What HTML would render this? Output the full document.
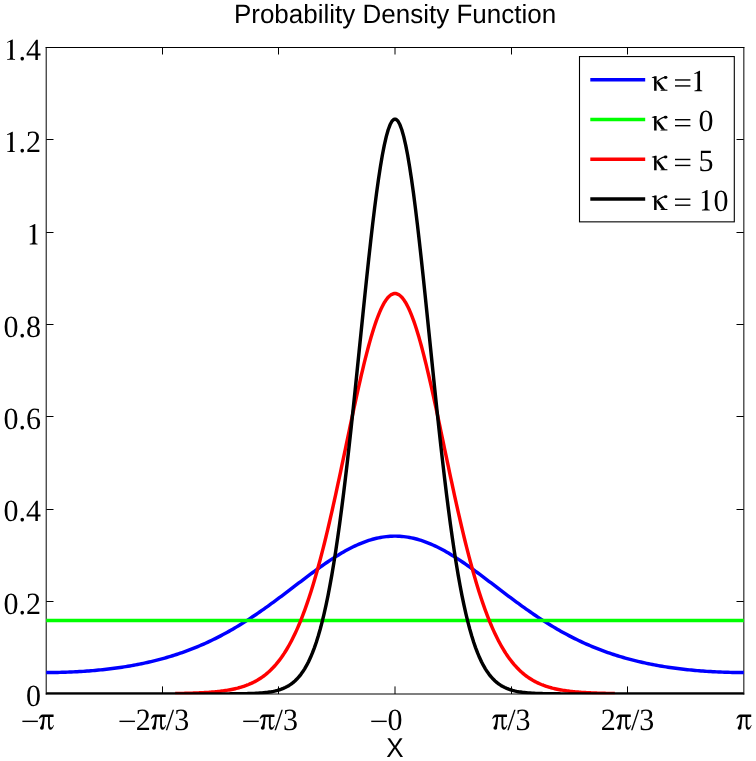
<!DOCTYPE html>
<html><head><meta charset="utf-8"><style>
html,body{margin:0;padding:0;background:#fff;}
svg{display:block;will-change:transform;text-rendering:geometricPrecision;}
.serif{font-family:"Liberation Serif",serif;font-size:30px;fill:#000;}
.sans{font-family:"Liberation Sans",sans-serif;fill:#000;}
</style></head><body>
<svg width="756" height="761" viewBox="0 0 756 761">
<rect width="756" height="761" fill="#fff"/>
<defs><clipPath id="c"><rect x="45.7" y="47" width="698.6" height="647.2"/></clipPath></defs>
<path d="M45.7,47.5H744.35M46.2,47V694.5M743.85,47V694.5" stroke="#000" stroke-width="1" fill="none"/>
<path d="M45.7,693.95H744.35" stroke="#000" stroke-width="1.1" fill="none"/>
<path d="M46.3,601.50h7.2 M743.7,601.50h-7.2 M46.3,509.50h7.2 M743.7,509.50h-7.2 M46.3,416.50h7.2 M743.7,416.50h-7.2 M46.3,324.50h7.2 M743.7,324.50h-7.2 M46.3,232.50h7.2 M743.7,232.50h-7.2 M46.3,139.50h7.2 M743.7,139.50h-7.2 M162.50,694v-7.6 M162.50,47.5v7.0 M278.50,694v-7.6 M278.50,47.5v7.0 M395.00,694v-7.6 M395.00,47.5v7.0 M511.50,694v-7.6 M511.50,47.5v7.0 M627.50,694v-7.6 M627.50,47.5v7.0" stroke="#000" stroke-width="1" fill="none"/>
<g clip-path="url(#c)" fill="none" stroke-width="3.45" stroke-linejoin="round">
<path d="M46.20,672.55L48.14,672.54L50.09,672.53L52.03,672.52L53.97,672.50L55.92,672.47L57.86,672.43L59.80,672.39L61.75,672.34L63.69,672.28L65.63,672.22L67.57,672.15L69.52,672.07L71.46,671.99L73.40,671.90L75.35,671.80L77.29,671.70L79.23,671.59L81.18,671.47L83.12,671.35L85.06,671.21L87.01,671.07L88.95,670.93L90.89,670.77L92.84,670.61L94.78,670.44L96.72,670.26L98.67,670.07L100.61,669.88L102.55,669.68L104.50,669.47L106.44,669.25L108.38,669.02L110.32,668.79L112.27,668.54L114.21,668.29L116.15,668.03L118.10,667.76L120.04,667.48L121.98,667.19L123.93,666.89L125.87,666.58L127.81,666.26L129.76,665.93L131.70,665.59L133.64,665.24L135.59,664.88L137.53,664.50L139.47,664.12L141.42,663.73L143.36,663.32L145.30,662.91L147.25,662.48L149.19,662.04L151.13,661.59L153.07,661.12L155.02,660.64L156.96,660.15L158.90,659.65L160.85,659.14L162.79,658.61L164.73,658.06L166.68,657.51L168.62,656.94L170.56,656.35L172.51,655.75L174.45,655.14L176.39,654.51L178.34,653.87L180.28,653.21L182.22,652.54L184.17,651.85L186.11,651.15L188.05,650.43L189.99,649.69L191.94,648.94L193.88,648.17L195.82,647.38L197.77,646.58L199.71,645.76L201.65,644.92L203.60,644.07L205.54,643.20L207.48,642.31L209.43,641.41L211.37,640.48L213.31,639.54L215.26,638.59L217.20,637.61L219.14,636.62L221.09,635.60L223.03,634.58L224.97,633.53L226.92,632.46L228.86,631.38L230.80,630.28L232.74,629.16L234.69,628.03L236.63,626.88L238.57,625.71L240.52,624.52L242.46,623.32L244.40,622.10L246.35,620.86L248.29,619.61L250.23,618.34L252.18,617.06L254.12,615.76L256.06,614.45L258.01,613.12L259.95,611.78L261.89,610.42L263.84,609.06L265.78,607.68L267.72,606.29L269.67,604.88L271.61,603.47L273.55,602.05L275.49,600.61L277.44,599.17L279.38,597.72L281.32,596.27L283.27,594.80L285.21,593.34L287.15,591.86L289.10,590.39L291.04,588.91L292.98,587.43L294.93,585.95L296.87,584.46L298.81,582.98L300.76,581.51L302.70,580.03L304.64,578.56L306.59,577.10L308.53,575.64L310.47,574.19L312.42,572.75L314.36,571.32L316.30,569.90L318.24,568.49L320.19,567.10L322.13,565.72L324.07,564.36L326.02,563.02L327.96,561.70L329.90,560.39L331.85,559.11L333.79,557.85L335.73,556.62L337.68,555.41L339.62,554.23L341.56,553.07L343.51,551.94L345.45,550.85L347.39,549.78L349.34,548.75L351.28,547.75L353.22,546.79L355.16,545.86L357.11,544.97L359.05,544.12L360.99,543.30L362.94,542.53L364.88,541.79L366.82,541.10L368.77,540.45L370.71,539.84L372.65,539.28L374.60,538.76L376.54,538.29L378.48,537.86L380.43,537.48L382.37,537.14L384.31,536.86L386.26,536.62L388.20,536.42L390.14,536.28L392.09,536.18L394.03,536.13L395.97,536.13L397.91,536.18L399.86,536.28L401.80,536.42L403.74,536.62L405.69,536.86L407.63,537.14L409.57,537.48L411.52,537.86L413.46,538.29L415.40,538.76L417.35,539.28L419.29,539.84L421.23,540.45L423.18,541.10L425.12,541.79L427.06,542.53L429.01,543.30L430.95,544.12L432.89,544.97L434.84,545.86L436.78,546.79L438.72,547.75L440.66,548.75L442.61,549.78L444.55,550.85L446.49,551.94L448.44,553.07L450.38,554.23L452.32,555.41L454.27,556.62L456.21,557.85L458.15,559.11L460.10,560.39L462.04,561.70L463.98,563.02L465.93,564.36L467.87,565.72L469.81,567.10L471.76,568.49L473.70,569.90L475.64,571.32L477.58,572.75L479.53,574.19L481.47,575.64L483.41,577.10L485.36,578.56L487.30,580.03L489.24,581.51L491.19,582.98L493.13,584.46L495.07,585.95L497.02,587.43L498.96,588.91L500.90,590.39L502.85,591.86L504.79,593.34L506.73,594.80L508.68,596.27L510.62,597.72L512.56,599.17L514.51,600.61L516.45,602.05L518.39,603.47L520.33,604.88L522.28,606.29L524.22,607.68L526.16,609.06L528.11,610.42L530.05,611.78L531.99,613.12L533.94,614.45L535.88,615.76L537.82,617.06L539.77,618.34L541.71,619.61L543.65,620.86L545.60,622.10L547.54,623.32L549.48,624.52L551.43,625.71L553.37,626.88L555.31,628.03L557.26,629.16L559.20,630.28L561.14,631.38L563.08,632.46L565.03,633.53L566.97,634.58L568.91,635.60L570.86,636.62L572.80,637.61L574.74,638.59L576.69,639.54L578.63,640.48L580.57,641.41L582.52,642.31L584.46,643.20L586.40,644.07L588.35,644.92L590.29,645.76L592.23,646.58L594.18,647.38L596.12,648.17L598.06,648.94L600.01,649.69L601.95,650.43L603.89,651.15L605.83,651.85L607.78,652.54L609.72,653.21L611.66,653.87L613.61,654.51L615.55,655.14L617.49,655.75L619.44,656.35L621.38,656.94L623.32,657.51L625.27,658.06L627.21,658.61L629.15,659.14L631.10,659.65L633.04,660.15L634.98,660.64L636.93,661.12L638.87,661.59L640.81,662.04L642.75,662.48L644.70,662.91L646.64,663.32L648.58,663.73L650.53,664.12L652.47,664.50L654.41,664.88L656.36,665.24L658.30,665.59L660.24,665.93L662.19,666.26L664.13,666.58L666.07,666.89L668.02,667.19L669.96,667.48L671.90,667.76L673.85,668.03L675.79,668.29L677.73,668.54L679.68,668.79L681.62,669.02L683.56,669.25L685.50,669.47L687.45,669.68L689.39,669.88L691.33,670.07L693.28,670.26L695.22,670.44L697.16,670.61L699.11,670.77L701.05,670.93L702.99,671.07L704.94,671.21L706.88,671.35L708.82,671.47L710.77,671.59L712.71,671.70L714.65,671.80L716.60,671.90L718.54,671.99L720.48,672.07L722.43,672.15L724.37,672.22L726.31,672.28L728.25,672.34L730.20,672.39L732.14,672.43L734.08,672.47L736.03,672.50L737.97,672.52L739.91,672.53L741.86,672.54L743.80,672.55" stroke="#0000ff"/>
<path d="M46.20,620.42L48.14,620.42L50.09,620.42L52.03,620.42L53.97,620.42L55.92,620.42L57.86,620.42L59.80,620.42L61.75,620.42L63.69,620.42L65.63,620.42L67.57,620.42L69.52,620.42L71.46,620.42L73.40,620.42L75.35,620.42L77.29,620.42L79.23,620.42L81.18,620.42L83.12,620.42L85.06,620.42L87.01,620.42L88.95,620.42L90.89,620.42L92.84,620.42L94.78,620.42L96.72,620.42L98.67,620.42L100.61,620.42L102.55,620.42L104.50,620.42L106.44,620.42L108.38,620.42L110.32,620.42L112.27,620.42L114.21,620.42L116.15,620.42L118.10,620.42L120.04,620.42L121.98,620.42L123.93,620.42L125.87,620.42L127.81,620.42L129.76,620.42L131.70,620.42L133.64,620.42L135.59,620.42L137.53,620.42L139.47,620.42L141.42,620.42L143.36,620.42L145.30,620.42L147.25,620.42L149.19,620.42L151.13,620.42L153.07,620.42L155.02,620.42L156.96,620.42L158.90,620.42L160.85,620.42L162.79,620.42L164.73,620.42L166.68,620.42L168.62,620.42L170.56,620.42L172.51,620.42L174.45,620.42L176.39,620.42L178.34,620.42L180.28,620.42L182.22,620.42L184.17,620.42L186.11,620.42L188.05,620.42L189.99,620.42L191.94,620.42L193.88,620.42L195.82,620.42L197.77,620.42L199.71,620.42L201.65,620.42L203.60,620.42L205.54,620.42L207.48,620.42L209.43,620.42L211.37,620.42L213.31,620.42L215.26,620.42L217.20,620.42L219.14,620.42L221.09,620.42L223.03,620.42L224.97,620.42L226.92,620.42L228.86,620.42L230.80,620.42L232.74,620.42L234.69,620.42L236.63,620.42L238.57,620.42L240.52,620.42L242.46,620.42L244.40,620.42L246.35,620.42L248.29,620.42L250.23,620.42L252.18,620.42L254.12,620.42L256.06,620.42L258.01,620.42L259.95,620.42L261.89,620.42L263.84,620.42L265.78,620.42L267.72,620.42L269.67,620.42L271.61,620.42L273.55,620.42L275.49,620.42L277.44,620.42L279.38,620.42L281.32,620.42L283.27,620.42L285.21,620.42L287.15,620.42L289.10,620.42L291.04,620.42L292.98,620.42L294.93,620.42L296.87,620.42L298.81,620.42L300.76,620.42L302.70,620.42L304.64,620.42L306.59,620.42L308.53,620.42L310.47,620.42L312.42,620.42L314.36,620.42L316.30,620.42L318.24,620.42L320.19,620.42L322.13,620.42L324.07,620.42L326.02,620.42L327.96,620.42L329.90,620.42L331.85,620.42L333.79,620.42L335.73,620.42L337.68,620.42L339.62,620.42L341.56,620.42L343.51,620.42L345.45,620.42L347.39,620.42L349.34,620.42L351.28,620.42L353.22,620.42L355.16,620.42L357.11,620.42L359.05,620.42L360.99,620.42L362.94,620.42L364.88,620.42L366.82,620.42L368.77,620.42L370.71,620.42L372.65,620.42L374.60,620.42L376.54,620.42L378.48,620.42L380.43,620.42L382.37,620.42L384.31,620.42L386.26,620.42L388.20,620.42L390.14,620.42L392.09,620.42L394.03,620.42L395.97,620.42L397.91,620.42L399.86,620.42L401.80,620.42L403.74,620.42L405.69,620.42L407.63,620.42L409.57,620.42L411.52,620.42L413.46,620.42L415.40,620.42L417.35,620.42L419.29,620.42L421.23,620.42L423.18,620.42L425.12,620.42L427.06,620.42L429.01,620.42L430.95,620.42L432.89,620.42L434.84,620.42L436.78,620.42L438.72,620.42L440.66,620.42L442.61,620.42L444.55,620.42L446.49,620.42L448.44,620.42L450.38,620.42L452.32,620.42L454.27,620.42L456.21,620.42L458.15,620.42L460.10,620.42L462.04,620.42L463.98,620.42L465.93,620.42L467.87,620.42L469.81,620.42L471.76,620.42L473.70,620.42L475.64,620.42L477.58,620.42L479.53,620.42L481.47,620.42L483.41,620.42L485.36,620.42L487.30,620.42L489.24,620.42L491.19,620.42L493.13,620.42L495.07,620.42L497.02,620.42L498.96,620.42L500.90,620.42L502.85,620.42L504.79,620.42L506.73,620.42L508.68,620.42L510.62,620.42L512.56,620.42L514.51,620.42L516.45,620.42L518.39,620.42L520.33,620.42L522.28,620.42L524.22,620.42L526.16,620.42L528.11,620.42L530.05,620.42L531.99,620.42L533.94,620.42L535.88,620.42L537.82,620.42L539.77,620.42L541.71,620.42L543.65,620.42L545.60,620.42L547.54,620.42L549.48,620.42L551.43,620.42L553.37,620.42L555.31,620.42L557.26,620.42L559.20,620.42L561.14,620.42L563.08,620.42L565.03,620.42L566.97,620.42L568.91,620.42L570.86,620.42L572.80,620.42L574.74,620.42L576.69,620.42L578.63,620.42L580.57,620.42L582.52,620.42L584.46,620.42L586.40,620.42L588.35,620.42L590.29,620.42L592.23,620.42L594.18,620.42L596.12,620.42L598.06,620.42L600.01,620.42L601.95,620.42L603.89,620.42L605.83,620.42L607.78,620.42L609.72,620.42L611.66,620.42L613.61,620.42L615.55,620.42L617.49,620.42L619.44,620.42L621.38,620.42L623.32,620.42L625.27,620.42L627.21,620.42L629.15,620.42L631.10,620.42L633.04,620.42L634.98,620.42L636.93,620.42L638.87,620.42L640.81,620.42L642.75,620.42L644.70,620.42L646.64,620.42L648.58,620.42L650.53,620.42L652.47,620.42L654.41,620.42L656.36,620.42L658.30,620.42L660.24,620.42L662.19,620.42L664.13,620.42L666.07,620.42L668.02,620.42L669.96,620.42L671.90,620.42L673.85,620.42L675.79,620.42L677.73,620.42L679.68,620.42L681.62,620.42L683.56,620.42L685.50,620.42L687.45,620.42L689.39,620.42L691.33,620.42L693.28,620.42L695.22,620.42L697.16,620.42L699.11,620.42L701.05,620.42L702.99,620.42L704.94,620.42L706.88,620.42L708.82,620.42L710.77,620.42L712.71,620.42L714.65,620.42L716.60,620.42L718.54,620.42L720.48,620.42L722.43,620.42L724.37,620.42L726.31,620.42L728.25,620.42L730.20,620.42L732.14,620.42L734.08,620.42L736.03,620.42L737.97,620.42L739.91,620.42L741.86,620.42L743.80,620.42" stroke="#00ff00"/>
<path d="M175.19,693.53L176.42,693.51L177.64,693.49L178.87,693.47L180.09,693.45L181.32,693.42L182.54,693.40L183.76,693.37L184.99,693.34L186.21,693.31L187.44,693.28L188.66,693.25L189.89,693.21L191.11,693.17L192.34,693.13L193.56,693.09L194.79,693.05L196.01,693.00L197.23,692.95L198.46,692.90L199.68,692.84L200.91,692.78L202.13,692.72L203.36,692.66L204.58,692.59L205.81,692.51L207.03,692.43L208.26,692.35L209.48,692.26L210.71,692.17L211.93,692.07L213.15,691.97L214.38,691.86L215.60,691.75L216.83,691.62L218.05,691.49L219.28,691.36L220.50,691.21L221.73,691.06L222.95,690.90L224.18,690.73L225.40,690.55L226.62,690.36L227.85,690.16L229.07,689.95L230.30,689.73L231.52,689.49L232.75,689.24L233.97,688.98L235.20,688.70L236.42,688.41L237.65,688.11L238.87,687.78L240.09,687.44L241.32,687.08L242.54,686.70L243.77,686.30L244.99,685.88L246.22,685.44L247.44,684.97L248.67,684.48L249.89,683.96L251.12,683.42L252.34,682.85L253.56,682.25L254.79,681.62L256.01,680.96L257.24,680.27L258.46,679.54L259.69,678.77L260.91,677.97L262.14,677.13L263.36,676.25L264.59,675.32L265.81,674.36L267.03,673.35L268.26,672.29L269.48,671.18L270.71,670.02L271.93,668.81L273.16,667.54L274.38,666.22L275.61,664.84L276.83,663.40L278.06,661.89L279.28,660.33L280.50,658.70L281.73,657.00L282.95,655.23L284.18,653.39L285.40,651.47L286.63,649.48L287.85,647.41L289.08,645.26L290.30,643.04L291.53,640.72L292.75,638.33L293.97,635.84L295.20,633.27L296.42,630.61L297.65,627.86L298.87,625.01L300.10,622.07L301.32,619.03L302.55,615.90L303.77,612.67L305.00,609.34L306.22,605.91L307.44,602.38L308.67,598.75L309.89,595.01L311.12,591.18L312.34,587.25L313.57,583.21L314.79,579.07L316.02,574.84L317.24,570.50L318.47,566.07L319.69,561.53L320.91,556.91L322.14,552.18L323.36,547.37L324.59,542.47L325.81,537.47L327.04,532.40L328.26,527.24L329.49,522.00L330.71,516.69L331.94,511.31L333.16,505.86L334.38,500.35L335.61,494.78L336.83,489.15L338.06,483.48L339.28,477.77L340.51,472.02L341.73,466.23L342.96,460.43L344.18,454.60L345.41,448.77L346.63,442.93L347.85,437.09L349.08,431.26L350.30,425.45L351.53,419.66L352.75,413.91L353.98,408.20L355.20,402.53L356.43,396.92L357.65,391.38L358.88,385.91L360.10,380.53L361.32,375.23L362.55,370.03L363.77,364.94L365.00,359.96L366.22,355.11L367.45,350.39L368.67,345.81L369.90,341.37L371.12,337.09L372.35,332.98L373.57,329.03L374.79,325.26L376.02,321.67L377.24,318.28L378.47,315.08L379.69,312.08L380.92,309.29L382.14,306.72L383.37,304.36L384.59,302.23L385.82,300.32L387.04,298.64L388.26,297.20L389.49,295.99L390.71,295.02L391.94,294.29L393.16,293.80L394.39,293.56L395.61,293.56L396.84,293.80L398.06,294.29L399.29,295.02L400.51,295.99L401.74,297.20L402.96,298.64L404.18,300.32L405.41,302.23L406.63,304.36L407.86,306.72L409.08,309.29L410.31,312.08L411.53,315.08L412.76,318.28L413.98,321.67L415.21,325.26L416.43,329.03L417.65,332.98L418.88,337.09L420.10,341.37L421.33,345.81L422.55,350.39L423.78,355.11L425.00,359.96L426.23,364.94L427.45,370.03L428.68,375.23L429.90,380.53L431.12,385.91L432.35,391.38L433.57,396.92L434.80,402.53L436.02,408.20L437.25,413.91L438.47,419.66L439.70,425.45L440.92,431.26L442.15,437.09L443.37,442.93L444.59,448.77L445.82,454.60L447.04,460.43L448.27,466.23L449.49,472.02L450.72,477.77L451.94,483.48L453.17,489.15L454.39,494.78L455.62,500.35L456.84,505.86L458.06,511.31L459.29,516.69L460.51,522.00L461.74,527.24L462.96,532.40L464.19,537.47L465.41,542.47L466.64,547.37L467.86,552.18L469.09,556.91L470.31,561.53L471.53,566.07L472.76,570.50L473.98,574.84L475.21,579.07L476.43,583.21L477.66,587.25L478.88,591.18L480.11,595.01L481.33,598.75L482.56,602.38L483.78,605.91L485.00,609.34L486.23,612.67L487.45,615.90L488.68,619.03L489.90,622.07L491.13,625.01L492.35,627.86L493.58,630.61L494.80,633.27L496.03,635.84L497.25,638.33L498.47,640.72L499.70,643.04L500.92,645.26L502.15,647.41L503.37,649.48L504.60,651.47L505.82,653.39L507.05,655.23L508.27,657.00L509.50,658.70L510.72,660.33L511.94,661.89L513.17,663.40L514.39,664.84L515.62,666.22L516.84,667.54L518.07,668.81L519.29,670.02L520.52,671.18L521.74,672.29L522.97,673.35L524.19,674.36L525.41,675.32L526.64,676.25L527.86,677.13L529.09,677.97L530.31,678.77L531.54,679.54L532.76,680.27L533.99,680.96L535.21,681.62L536.44,682.25L537.66,682.85L538.88,683.42L540.11,683.96L541.33,684.48L542.56,684.97L543.78,685.44L545.01,685.88L546.23,686.30L547.46,686.70L548.68,687.08L549.91,687.44L551.13,687.78L552.35,688.11L553.58,688.41L554.80,688.70L556.03,688.98L557.25,689.24L558.48,689.49L559.70,689.73L560.93,689.95L562.15,690.16L563.38,690.36L564.60,690.55L565.82,690.73L567.05,690.90L568.27,691.06L569.50,691.21L570.72,691.36L571.95,691.49L573.17,691.62L574.40,691.75L575.62,691.86L576.85,691.97L578.07,692.07L579.29,692.17L580.52,692.26L581.74,692.35L582.97,692.43L584.19,692.51L585.42,692.59L586.64,692.66L587.87,692.72L589.09,692.78L590.32,692.84L591.54,692.90L592.77,692.95L593.99,693.00L595.21,693.05L596.44,693.09L597.66,693.13L598.89,693.17L600.11,693.21L601.34,693.25L602.56,693.28L603.79,693.31L605.01,693.34L606.24,693.37L607.46,693.40L608.68,693.42L609.91,693.45L611.13,693.47L612.36,693.49L613.58,693.51L614.81,693.53" stroke="#ff0000"/>
<path d="M46.20,693.90L48.14,693.90L50.09,693.90L52.03,693.90L53.97,693.90L55.92,693.90L57.86,693.90L59.80,693.90L61.75,693.90L63.69,693.90L65.63,693.90L67.57,693.90L69.52,693.90L71.46,693.90L73.40,693.90L75.35,693.90L77.29,693.90L79.23,693.90L81.18,693.90L83.12,693.90L85.06,693.90L87.01,693.90L88.95,693.90L90.89,693.90L92.84,693.90L94.78,693.90L96.72,693.90L98.67,693.90L100.61,693.90L102.55,693.90L104.50,693.90L106.44,693.90L108.38,693.90L110.32,693.90L112.27,693.90L114.21,693.90L116.15,693.90L118.10,693.90L120.04,693.90L121.98,693.90L123.93,693.90L125.87,693.90L127.81,693.90L129.76,693.90L131.70,693.90L133.64,693.90L135.59,693.90L137.53,693.90L139.47,693.90L141.42,693.90L143.36,693.90L145.30,693.90L147.25,693.90L149.19,693.90L151.13,693.90L153.07,693.90L155.02,693.90L156.96,693.90L158.90,693.90L160.85,693.90L162.79,693.90L164.73,693.90L166.68,693.90L168.62,693.90L170.56,693.90L172.51,693.90L174.45,693.90L176.39,693.90L178.34,693.90L180.28,693.90L182.22,693.90L184.17,693.90L186.11,693.90L188.05,693.90L189.99,693.90L191.94,693.90L193.88,693.90L195.82,693.90L197.77,693.90L199.71,693.90L201.65,693.90L203.60,693.89L205.54,693.89L207.48,693.89L209.43,693.89L211.37,693.89L213.31,693.89L215.26,693.88L217.20,693.88L219.14,693.88L221.09,693.87L223.03,693.87L224.97,693.86L226.92,693.85L228.86,693.85L230.80,693.83L232.74,693.82L234.69,693.81L236.63,693.79L238.57,693.77L240.52,693.74L242.46,693.72L244.40,693.68L246.35,693.64L248.29,693.59L250.23,693.54L252.18,693.47L254.12,693.39L256.06,693.30L258.01,693.19L259.95,693.06L261.89,692.91L263.84,692.74L265.78,692.53L267.72,692.30L269.67,692.02L271.61,691.70L273.55,691.33L275.49,690.90L277.44,690.40L279.38,689.83L281.32,689.17L283.27,688.41L285.21,687.54L287.15,686.54L289.10,685.40L291.04,684.11L292.98,682.64L294.93,680.97L296.87,679.08L298.81,676.95L300.76,674.55L302.70,671.86L304.64,668.84L306.59,665.47L308.53,661.72L310.47,657.55L312.42,652.93L314.36,647.83L316.30,642.21L318.24,636.03L320.19,629.28L322.13,621.91L324.07,613.89L326.02,605.20L327.96,595.81L329.90,585.70L331.85,574.85L333.79,563.25L335.73,550.90L337.68,537.79L339.62,523.93L341.56,509.33L343.51,494.03L345.45,478.05L347.39,461.43L349.34,444.23L351.28,426.51L353.22,408.34L355.16,389.81L357.11,371.00L359.05,352.01L360.99,332.96L362.94,313.96L364.88,295.13L366.82,276.60L368.77,258.50L370.71,240.97L372.65,224.14L374.60,208.14L376.54,193.11L378.48,179.17L380.43,166.44L382.37,155.04L384.31,145.06L386.26,136.60L388.20,129.74L390.14,124.53L392.09,121.03L394.03,119.28L395.97,119.28L397.91,121.03L399.86,124.53L401.80,129.74L403.74,136.60L405.69,145.06L407.63,155.04L409.57,166.44L411.52,179.17L413.46,193.11L415.40,208.14L417.35,224.14L419.29,240.97L421.23,258.50L423.18,276.60L425.12,295.13L427.06,313.96L429.01,332.96L430.95,352.01L432.89,371.00L434.84,389.81L436.78,408.34L438.72,426.51L440.66,444.23L442.61,461.43L444.55,478.05L446.49,494.03L448.44,509.33L450.38,523.93L452.32,537.79L454.27,550.90L456.21,563.25L458.15,574.85L460.10,585.70L462.04,595.81L463.98,605.20L465.93,613.89L467.87,621.91L469.81,629.28L471.76,636.03L473.70,642.21L475.64,647.83L477.58,652.93L479.53,657.55L481.47,661.72L483.41,665.47L485.36,668.84L487.30,671.86L489.24,674.55L491.19,676.95L493.13,679.08L495.07,680.97L497.02,682.64L498.96,684.11L500.90,685.40L502.85,686.54L504.79,687.54L506.73,688.41L508.68,689.17L510.62,689.83L512.56,690.40L514.51,690.90L516.45,691.33L518.39,691.70L520.33,692.02L522.28,692.30L524.22,692.53L526.16,692.74L528.11,692.91L530.05,693.06L531.99,693.19L533.94,693.30L535.88,693.39L537.82,693.47L539.77,693.54L541.71,693.59L543.65,693.64L545.60,693.68L547.54,693.72L549.48,693.74L551.43,693.77L553.37,693.79L555.31,693.81L557.26,693.82L559.20,693.83L561.14,693.85L563.08,693.85L565.03,693.86L566.97,693.87L568.91,693.87L570.86,693.88L572.80,693.88L574.74,693.88L576.69,693.89L578.63,693.89L580.57,693.89L582.52,693.89L584.46,693.89L586.40,693.89L588.35,693.90L590.29,693.90L592.23,693.90L594.18,693.90L596.12,693.90L598.06,693.90L600.01,693.90L601.95,693.90L603.89,693.90L605.83,693.90L607.78,693.90L609.72,693.90L611.66,693.90L613.61,693.90L615.55,693.90L617.49,693.90L619.44,693.90L621.38,693.90L623.32,693.90L625.27,693.90L627.21,693.90L629.15,693.90L631.10,693.90L633.04,693.90L634.98,693.90L636.93,693.90L638.87,693.90L640.81,693.90L642.75,693.90L644.70,693.90L646.64,693.90L648.58,693.90L650.53,693.90L652.47,693.90L654.41,693.90L656.36,693.90L658.30,693.90L660.24,693.90L662.19,693.90L664.13,693.90L666.07,693.90L668.02,693.90L669.96,693.90L671.90,693.90L673.85,693.90L675.79,693.90L677.73,693.90L679.68,693.90L681.62,693.90L683.56,693.90L685.50,693.90L687.45,693.90L689.39,693.90L691.33,693.90L693.28,693.90L695.22,693.90L697.16,693.90L699.11,693.90L701.05,693.90L702.99,693.90L704.94,693.90L706.88,693.90L708.82,693.90L710.77,693.90L712.71,693.90L714.65,693.90L716.60,693.90L718.54,693.90L720.48,693.90L722.43,693.90L724.37,693.90L726.31,693.90L728.25,693.90L730.20,693.90L732.14,693.90L734.08,693.90L736.03,693.90L737.97,693.90L739.91,693.90L741.86,693.90L743.80,693.90" stroke="#000000"/>
</g>
<g class="serif">
<text transform="translate(26.00,706.10) scale(1,1.03)">0</text>
<text transform="translate(3.50,613.76) scale(1,1.03)">0</text>
<text transform="translate(18.50,613.76) scale(1,1.03)">.</text>
<text transform="translate(26.00,613.76) scale(1,1.03)">2</text>
<text transform="translate(3.50,521.41) scale(1,1.03)">0</text>
<text transform="translate(18.50,521.41) scale(1,1.03)">.</text>
<text transform="translate(26.00,521.41) scale(1,1.03)">4</text>
<text transform="translate(3.50,429.07) scale(1,1.03)">0</text>
<text transform="translate(18.50,429.07) scale(1,1.03)">.</text>
<text transform="translate(26.00,429.07) scale(1,1.03)">6</text>
<text transform="translate(3.50,336.73) scale(1,1.03)">0</text>
<text transform="translate(18.50,336.73) scale(1,1.03)">.</text>
<text transform="translate(26.00,336.73) scale(1,1.03)">8</text>
<path transform="translate(26.00,244.39)" d="M6.65,-17.35L6.65,-2.3C6.65,-1.05 5.9,-0.75 3.7,-0.6L3.7,0L11.55,0L11.55,-0.6C9.9,-0.75 9.3,-1.05 9.3,-2.3L9.3,-20.3L8.75,-20.3L3.45,-17.55L3.65,-17.05C4.7,-17.5 5.5,-17.7 6.0,-17.65C6.45,-17.6 6.65,-17.5 6.65,-17.35Z"/>
<path transform="translate(3.50,152.04)" d="M6.65,-17.35L6.65,-2.3C6.65,-1.05 5.9,-0.75 3.7,-0.6L3.7,0L11.55,0L11.55,-0.6C9.9,-0.75 9.3,-1.05 9.3,-2.3L9.3,-20.3L8.75,-20.3L3.45,-17.55L3.65,-17.05C4.7,-17.5 5.5,-17.7 6.0,-17.65C6.45,-17.6 6.65,-17.5 6.65,-17.35Z"/>
<text transform="translate(18.50,152.04) scale(1,1.03)">.</text>
<text transform="translate(26.00,152.04) scale(1,1.03)">2</text>
<path transform="translate(3.50,59.70)" d="M6.65,-17.35L6.65,-2.3C6.65,-1.05 5.9,-0.75 3.7,-0.6L3.7,0L11.55,0L11.55,-0.6C9.9,-0.75 9.3,-1.05 9.3,-2.3L9.3,-20.3L8.75,-20.3L3.45,-17.55L3.65,-17.05C4.7,-17.5 5.5,-17.7 6.0,-17.65C6.45,-17.6 6.65,-17.5 6.65,-17.35Z"/>
<text transform="translate(18.50,59.70) scale(1,1.03)">.</text>
<text transform="translate(26.00,59.70) scale(1,1.03)">4</text>
<rect x="22.37" y="720.65" width="15.5" height="1.4"/>
<g transform="translate(38.58,729.50)"><path d="M0.19,-10.75C1.0,-13.1 2.2,-14.99 4.2,-14.99L15.0,-14.99L15.0,-12.61L4.6,-12.61C2.9,-12.61 1.6,-11.8 0.75,-10.45Z"/><path d="M4.3,-12.7L6.1,-12.7C5.95,-8.5 5.5,-5 5.0,-1.8L2.2,-2.4C3.2,-4.5 3.8,-7.5 4.3,-12.7Z"/><ellipse cx="3.3" cy="-1.45" rx="1.9" ry="1.75"/><path d="M9.45,-12.7L9.45,-4C9.45,-1.3 10.4,0.15 11.8,0.15C13.4,0.15 14.6,-1.6 15.4,-4.3L14.9,-4.45C14.3,-2.9 13.6,-2.1 12.6,-2.1C11.7,-2.1 11.3,-3.0 11.3,-4.5L11.3,-12.7Z"/></g>
<rect x="119.45" y="720.65" width="15.5" height="1.4"/>
<text transform="translate(135.66,729.50) scale(1,1.03)">2</text>
<g transform="translate(150.67,729.50)"><path d="M0.19,-10.75C1.0,-13.1 2.2,-14.99 4.2,-14.99L15.0,-14.99L15.0,-12.61L4.6,-12.61C2.9,-12.61 1.6,-11.8 0.75,-10.45Z"/><path d="M4.3,-12.7L6.1,-12.7C5.95,-8.5 5.5,-5 5.0,-1.8L2.2,-2.4C3.2,-4.5 3.8,-7.5 4.3,-12.7Z"/><ellipse cx="3.3" cy="-1.45" rx="1.9" ry="1.75"/><path d="M9.45,-12.7L9.45,-4C9.45,-1.3 10.4,0.15 11.8,0.15C13.4,0.15 14.6,-1.6 15.4,-4.3L14.9,-4.45C14.3,-2.9 13.6,-2.1 12.6,-2.1C11.7,-2.1 11.3,-3.0 11.3,-4.5L11.3,-12.7Z"/></g>
<text transform="translate(165.83,729.50) scale(1,1.03)">/</text>
<text transform="translate(174.18,729.50) scale(1,1.03)">3</text>
<rect x="243.22" y="720.65" width="15.5" height="1.4"/>
<g transform="translate(259.43,729.50)"><path d="M0.19,-10.75C1.0,-13.1 2.2,-14.99 4.2,-14.99L15.0,-14.99L15.0,-12.61L4.6,-12.61C2.9,-12.61 1.6,-11.8 0.75,-10.45Z"/><path d="M4.3,-12.7L6.1,-12.7C5.95,-8.5 5.5,-5 5.0,-1.8L2.2,-2.4C3.2,-4.5 3.8,-7.5 4.3,-12.7Z"/><ellipse cx="3.3" cy="-1.45" rx="1.9" ry="1.75"/><path d="M9.45,-12.7L9.45,-4C9.45,-1.3 10.4,0.15 11.8,0.15C13.4,0.15 14.6,-1.6 15.4,-4.3L14.9,-4.45C14.3,-2.9 13.6,-2.1 12.6,-2.1C11.7,-2.1 11.3,-3.0 11.3,-4.5L11.3,-12.7Z"/></g>
<text transform="translate(274.59,729.50) scale(1,1.03)">/</text>
<text transform="translate(282.94,729.50) scale(1,1.03)">3</text>
<rect x="371.24" y="720.65" width="15.5" height="1.4"/>
<text transform="translate(387.45,729.50) scale(1,1.03)">0</text>
<g transform="translate(492.01,729.50)"><path d="M0.19,-10.75C1.0,-13.1 2.2,-14.99 4.2,-14.99L15.0,-14.99L15.0,-12.61L4.6,-12.61C2.9,-12.61 1.6,-11.8 0.75,-10.45Z"/><path d="M4.3,-12.7L6.1,-12.7C5.95,-8.5 5.5,-5 5.0,-1.8L2.2,-2.4C3.2,-4.5 3.8,-7.5 4.3,-12.7Z"/><ellipse cx="3.3" cy="-1.45" rx="1.9" ry="1.75"/><path d="M9.45,-12.7L9.45,-4C9.45,-1.3 10.4,0.15 11.8,0.15C13.4,0.15 14.6,-1.6 15.4,-4.3L14.9,-4.45C14.3,-2.9 13.6,-2.1 12.6,-2.1C11.7,-2.1 11.3,-3.0 11.3,-4.5L11.3,-12.7Z"/></g>
<text transform="translate(507.17,729.50) scale(1,1.03)">/</text>
<text transform="translate(515.52,729.50) scale(1,1.03)">3</text>
<text transform="translate(600.77,729.50) scale(1,1.03)">2</text>
<g transform="translate(615.78,729.50)"><path d="M0.19,-10.75C1.0,-13.1 2.2,-14.99 4.2,-14.99L15.0,-14.99L15.0,-12.61L4.6,-12.61C2.9,-12.61 1.6,-11.8 0.75,-10.45Z"/><path d="M4.3,-12.7L6.1,-12.7C5.95,-8.5 5.5,-5 5.0,-1.8L2.2,-2.4C3.2,-4.5 3.8,-7.5 4.3,-12.7Z"/><ellipse cx="3.3" cy="-1.45" rx="1.9" ry="1.75"/><path d="M9.45,-12.7L9.45,-4C9.45,-1.3 10.4,0.15 11.8,0.15C13.4,0.15 14.6,-1.6 15.4,-4.3L14.9,-4.45C14.3,-2.9 13.6,-2.1 12.6,-2.1C11.7,-2.1 11.3,-3.0 11.3,-4.5L11.3,-12.7Z"/></g>
<text transform="translate(630.94,729.50) scale(1,1.03)">/</text>
<text transform="translate(639.29,729.50) scale(1,1.03)">3</text>
<g transform="translate(736.22,729.50)"><path d="M0.19,-10.75C1.0,-13.1 2.2,-14.99 4.2,-14.99L15.0,-14.99L15.0,-12.61L4.6,-12.61C2.9,-12.61 1.6,-11.8 0.75,-10.45Z"/><path d="M4.3,-12.7L6.1,-12.7C5.95,-8.5 5.5,-5 5.0,-1.8L2.2,-2.4C3.2,-4.5 3.8,-7.5 4.3,-12.7Z"/><ellipse cx="3.3" cy="-1.45" rx="1.9" ry="1.75"/><path d="M9.45,-12.7L9.45,-4C9.45,-1.3 10.4,0.15 11.8,0.15C13.4,0.15 14.6,-1.6 15.4,-4.3L14.9,-4.45C14.3,-2.9 13.6,-2.1 12.6,-2.1C11.7,-2.1 11.3,-3.0 11.3,-4.5L11.3,-12.7Z"/></g>
</g>
<text class="sans" transform="translate(395,22.6) scale(1,1.015)" font-size="26" text-anchor="middle">Probability Density Function</text>
<text class="sans" transform="translate(395,756.8) scale(1,1.045)" font-size="26" text-anchor="middle">X</text>
<rect x="579.5" y="56.55" width="154.8" height="165.3" fill="#fff" stroke="#000" stroke-width="1.1"/>
<g class="serif">
<path d="M590.3,79.65H645.2" stroke="#0000ff" stroke-width="3.45"/>
<g transform="translate(650,90.75)"><path d="M4.1,-14.0L5.3,-14.55L6.61,-14.55L6.61,0L4.1,0Z"/><path d="M1.85,-13.55L5.3,-14.55L5.3,-12.55L4.1,-12.55L1.85,-12.9Z"/><path d="M6.4,-7.9Q10.0,-12.4 14.4,-13.3" fill="none" stroke="#000" stroke-width="1.2"/><ellipse cx="15.6" cy="-13.2" rx="1.85" ry="1.45"/><path d="M6.61,-7.67L8.73,-9.52L15.34,-0.79L11.38,-1.32Z"/><path d="M10.3,-0.3Q11.5,-1.15 13,-1.15L17.4,-1.05L17.46,0L10.3,0Z"/></g>
<rect x="675.0" y="79.27" width="15.4" height="1.4"/><rect x="675.0" y="85.23" width="15.4" height="1.4"/>
<path transform="translate(690.74,91.15)" d="M6.65,-17.35L6.65,-2.3C6.65,-1.05 5.9,-0.75 3.7,-0.6L3.7,0L11.55,0L11.55,-0.6C9.9,-0.75 9.3,-1.05 9.3,-2.3L9.3,-20.3L8.75,-20.3L3.45,-17.55L3.65,-17.05C4.7,-17.5 5.5,-17.7 6.0,-17.65C6.45,-17.6 6.65,-17.5 6.65,-17.35Z"/>
<path d="M590.3,119.40H645.2" stroke="#00ff00" stroke-width="3.45"/>
<g transform="translate(650,130.50)"><path d="M4.1,-14.0L5.3,-14.55L6.61,-14.55L6.61,0L4.1,0Z"/><path d="M1.85,-13.55L5.3,-14.55L5.3,-12.55L4.1,-12.55L1.85,-12.9Z"/><path d="M6.4,-7.9Q10.0,-12.4 14.4,-13.3" fill="none" stroke="#000" stroke-width="1.2"/><ellipse cx="15.6" cy="-13.2" rx="1.85" ry="1.45"/><path d="M6.61,-7.67L8.73,-9.52L15.34,-0.79L11.38,-1.32Z"/><path d="M10.3,-0.3Q11.5,-1.15 13,-1.15L17.4,-1.05L17.46,0L10.3,0Z"/></g>
<rect x="675.0" y="119.02" width="15.4" height="1.4"/><rect x="675.0" y="124.98" width="15.4" height="1.4"/>
<text transform="translate(698.54,131.00) scale(1,1.03)">0</text>
<path d="M590.3,159.15H645.2" stroke="#ff0000" stroke-width="3.45"/>
<g transform="translate(650,170.25)"><path d="M4.1,-14.0L5.3,-14.55L6.61,-14.55L6.61,0L4.1,0Z"/><path d="M1.85,-13.55L5.3,-14.55L5.3,-12.55L4.1,-12.55L1.85,-12.9Z"/><path d="M6.4,-7.9Q10.0,-12.4 14.4,-13.3" fill="none" stroke="#000" stroke-width="1.2"/><ellipse cx="15.6" cy="-13.2" rx="1.85" ry="1.45"/><path d="M6.61,-7.67L8.73,-9.52L15.34,-0.79L11.38,-1.32Z"/><path d="M10.3,-0.3Q11.5,-1.15 13,-1.15L17.4,-1.05L17.46,0L10.3,0Z"/></g>
<rect x="675.0" y="158.77" width="15.4" height="1.4"/><rect x="675.0" y="164.73" width="15.4" height="1.4"/>
<text transform="translate(698.54,170.75) scale(1,1.03)">5</text>
<path d="M590.3,198.90H645.2" stroke="#000000" stroke-width="3.45"/>
<g transform="translate(650,210.00)"><path d="M4.1,-14.0L5.3,-14.55L6.61,-14.55L6.61,0L4.1,0Z"/><path d="M1.85,-13.55L5.3,-14.55L5.3,-12.55L4.1,-12.55L1.85,-12.9Z"/><path d="M6.4,-7.9Q10.0,-12.4 14.4,-13.3" fill="none" stroke="#000" stroke-width="1.2"/><ellipse cx="15.6" cy="-13.2" rx="1.85" ry="1.45"/><path d="M6.61,-7.67L8.73,-9.52L15.34,-0.79L11.38,-1.32Z"/><path d="M10.3,-0.3Q11.5,-1.15 13,-1.15L17.4,-1.05L17.46,0L10.3,0Z"/></g>
<rect x="675.0" y="198.52" width="15.4" height="1.4"/><rect x="675.0" y="204.48" width="15.4" height="1.4"/>
<path transform="translate(698.24,210.40)" d="M6.65,-17.35L6.65,-2.3C6.65,-1.05 5.9,-0.75 3.7,-0.6L3.7,0L11.55,0L11.55,-0.6C9.9,-0.75 9.3,-1.05 9.3,-2.3L9.3,-20.3L8.75,-20.3L3.45,-17.55L3.65,-17.05C4.7,-17.5 5.5,-17.7 6.0,-17.65C6.45,-17.6 6.65,-17.5 6.65,-17.35Z"/>
<text transform="translate(713.55,210.50) scale(1,1.03)">0</text>
</g>
</svg>
</body></html>
